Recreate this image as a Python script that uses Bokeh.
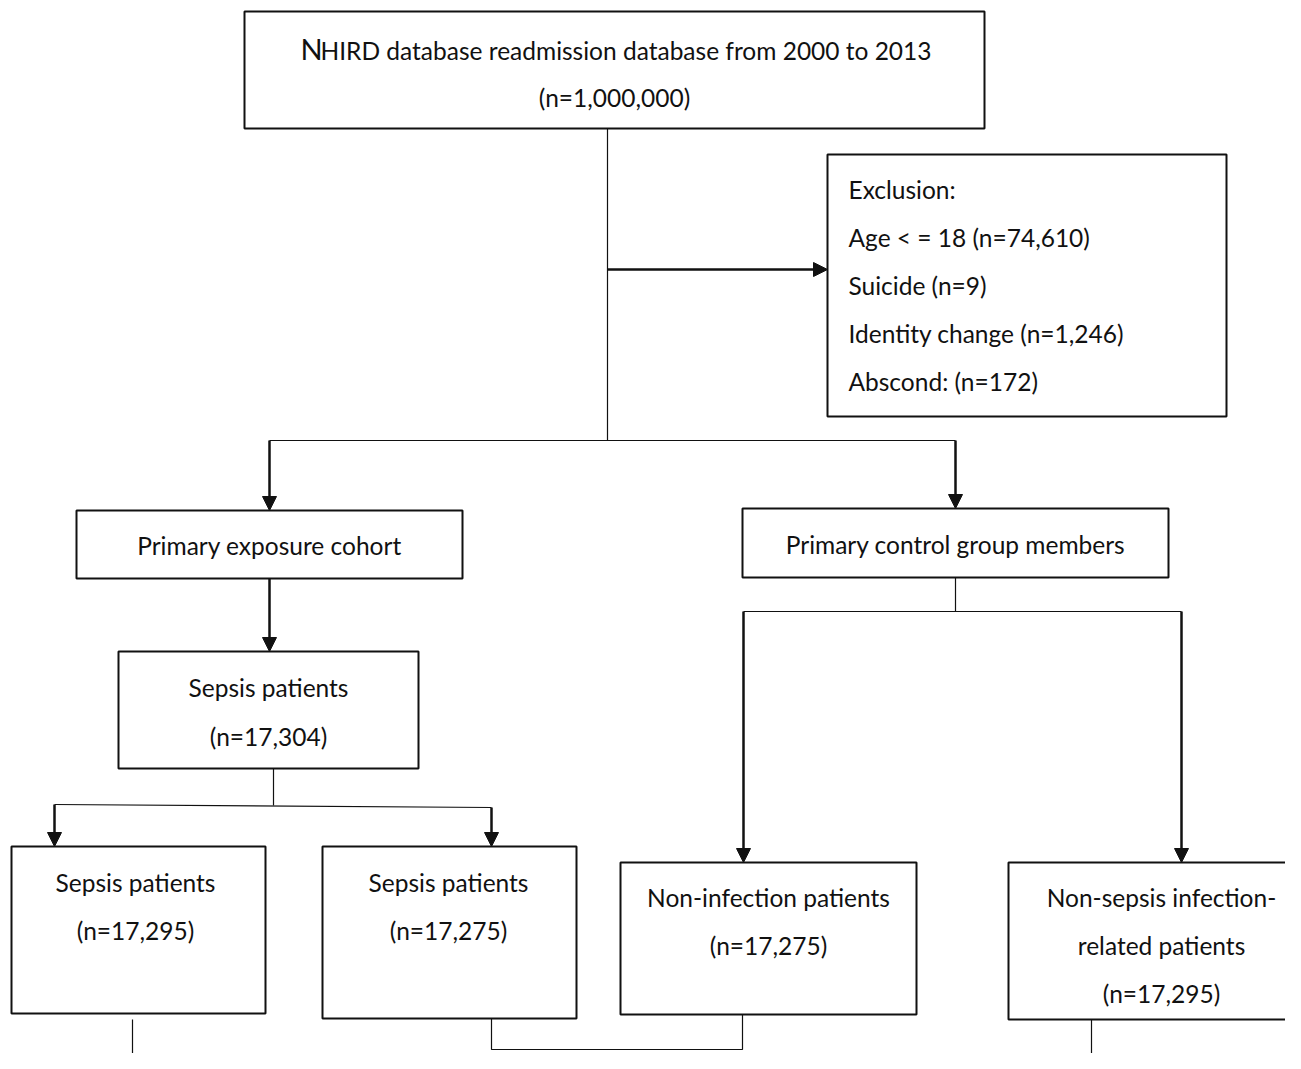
from bokeh.plotting import figure
from bokeh.models import Range1d, Arrow, NormalHead
from bokeh.core.properties import value
from bokeh.embed import file_html
from bokeh.resources import INLINE

# ---- data (texts of the flow chart) ----
source_title = "HIRD database readmission database from 2000 to 2013"
source_n = "(n=1,000,000)"
exclusion_lines = ["Exclusion:", "Age < = 18 (n=74,610)", "Suicide (n=9)",
                   "Identity change (n=1,246)", "Abscond: (n=172)"]
group_labels = ["Primary exposure cohort", "Primary control group members"]
sepsis_main = ["Sepsis patients", "(n=17,304)"]
bottom_boxes = [
    ["Sepsis patients", "(n=17,295)"],
    ["Sepsis patients", "(n=17,275)"],
    ["Non-infection patients", "(n=17,275)"],
    ["Non-sepsis infection-", "related patients", "(n=17,295)"],
]

FONT = "Lato"
FS = "24.5px"
INK = "#111111"

p = figure(width=1285, height=1053, x_range=Range1d(0, 1285), y_range=Range1d(1053, 0),
           output_backend="svg", toolbar_location=None, min_border=0)
p.axis.visible = False
p.grid.visible = False
p.outline_line_color = None
p.background_fill_color = "white"

# ---- layout: boxes (left, right, top, bottom) ----
boxes = [
    (244, 984, 11, 128),     # source
    (827, 1226, 154, 416),   # exclusion
    (76, 462, 510, 578),     # exposure cohort
    (742, 1168, 508, 577),   # control group
    (118, 418, 651, 768),    # sepsis main
    (11, 265, 846, 1013),
    (322, 576, 846, 1018),
    (620, 916, 862, 1014),
    (1008, 1320, 862, 1019),
]
p.quad(left=[b[0] for b in boxes], right=[b[1] for b in boxes],
       top=[b[2] for b in boxes], bottom=[b[3] for b in boxes],
       fill_color="white", line_color=INK, line_width=2)

def txt(x, y, s, align="center", size=FS):
    p.text(x=[x], y=[y], text=[s], text_align=align, text_baseline="middle",
           text_font=value(FONT), text_font_size=size, text_color=INK)

# source box
txt(300, 48, "N", align="left", size="29px")
txt(320, 50, source_title, align="left")
txt(614, 97, source_n)

# exclusion
for i, s in enumerate(exclusion_lines):
    txt(848, 189 + 48 * i, s, align="left")

txt(269, 545, group_labels[0])
txt(955, 544, group_labels[1])
txt(268, 687, sepsis_main[0])
txt(268, 736, sepsis_main[1])

centers = [(135, 882), (448, 882), (768, 897), (1161, 897)]
for (cx, cy), lines in zip(centers, bottom_boxes):
    for j, s in enumerate(lines):
        txt(cx, cy + 48 * j, s)

# ---- thin connector lines ----
thin = [
    ([607, 607], [128, 440]),
    ([269, 955], [440, 440]),
    ([273, 273], [768, 805]),
    ([54, 491], [804, 807]),
    ([955, 955], [577, 611]),
    ([743, 1181], [611, 611]),
    ([132, 132], [1019, 1075]),
    ([491, 491, 742, 742], [1018, 1049, 1049, 1014]),
    ([1091, 1091], [1019, 1075]),
]
p.multi_line(xs=[t[0] for t in thin], ys=[t[1] for t in thin], line_color=INK, line_width=1.2)

# ---- arrows ----
arrows = [
    (607, 269, 827, 269),
    (269, 440, 269, 510),
    (955, 440, 955, 508),
    (269, 578, 269, 651),
    (54, 804, 54, 846),
    (491, 807, 491, 846),
    (743, 611, 743, 862),
    (1181, 611, 1181, 862),
]
for x0, y0, x1, y1 in arrows:
    p.add_layout(Arrow(end=NormalHead(size=14, fill_color=INK, line_color=INK, line_width=1),
                       x_start=x0, y_start=y0, x_end=x1, y_end=y1,
                       line_color=INK, line_width=2.5))

open("out.html", "w").write(file_html(p, INLINE))
